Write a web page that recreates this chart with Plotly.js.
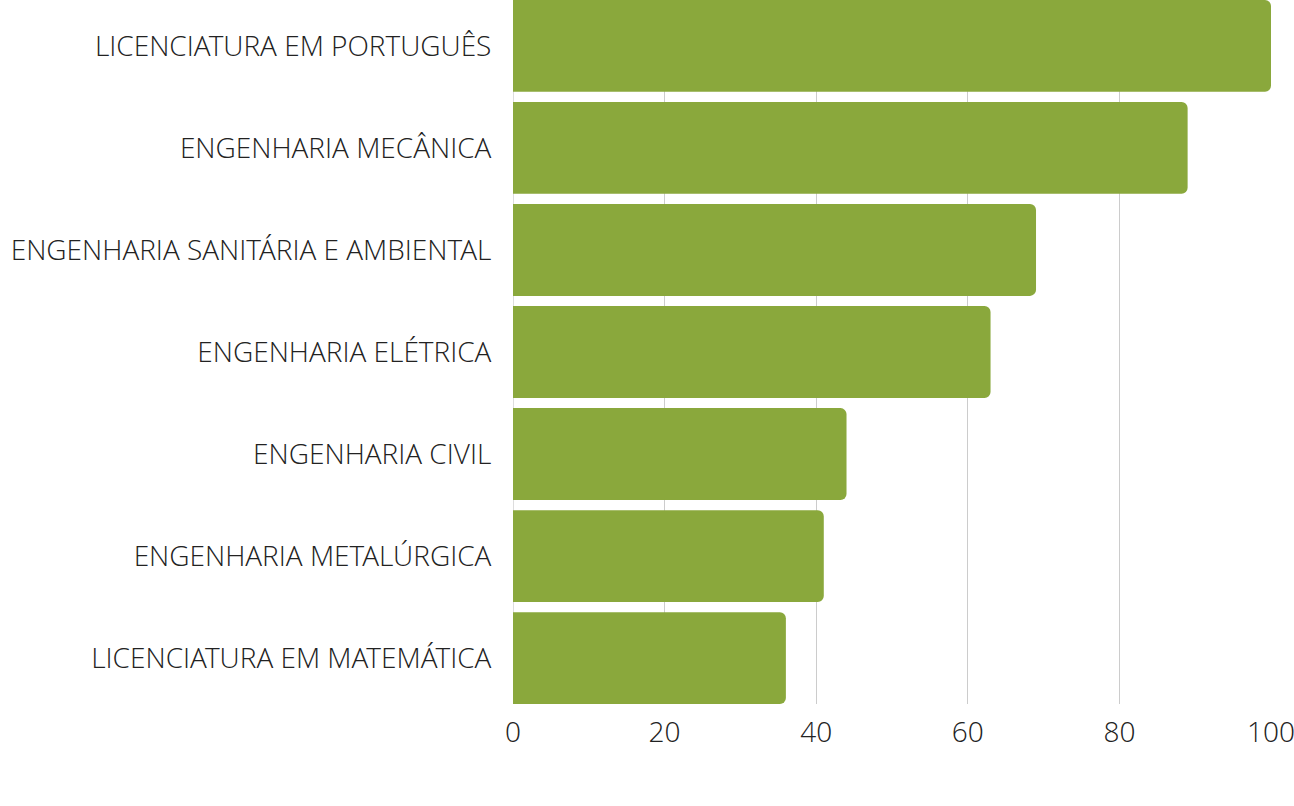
<!DOCTYPE html>
<html>
<head>
<meta charset="utf-8">
<script src="https://cdn.plot.ly/plotly-3.0.1.min.js"></script>
<style>html,body{margin:0;padding:0;background:#fff;}#chart{width:1294px;height:806px;}</style>
</head>
<body>
<div id="chart"></div>
<script>
const categories = [
  "LICENCIATURA EM PORTUGUÊS",
  "ENGENHARIA MECÂNICA",
  "ENGENHARIA SANITÁRIA E AMBIENTAL",
  "ENGENHARIA ELÉTRICA",
  "ENGENHARIA CIVIL",
  "ENGENHARIA METALÚRGICA",
  "LICENCIATURA EM MATEMÁTICA"
];
const values = [100, 89, 69, 63, 44, 41, 36];
const xTicks = [0, 20, 40, 60, 80, 100];

const FONT = '"Open Sans Light", "Open Sans", sans-serif';

const trace = {
  type: 'bar',
  orientation: 'h',
  x: values,
  y: categories,
  marker: {color: '#8aa83c', cornerradius: 6},
  hoverinfo: 'x+y'
};

const layout = {
  width: 1294,
  height: 806,
  margin: {l: 513, r: 23, t: 0, b: 102},
  paper_bgcolor: '#fff',
  plot_bgcolor: '#fff',
  bargap: 0.1,
  showlegend: false,
  font: {family: FONT, color: '#222'},
  xaxis: {
    range: [0, 100],
    tickvals: xTicks,
    showgrid: true,
    gridcolor: '#cccccc',
    gridwidth: 1,
    zeroline: false,
    showline: false,
    ticks: 'outside',
    ticklen: 3,
    tickcolor: 'rgba(0,0,0,0)',
    ticklabeloverflow: 'allow',
    tickfont: {family: FONT, size: 28, color: '#222', weight: 300}
  },
  yaxis: {
    type: 'category',
    categoryorder: 'array',
    categoryarray: categories,
    range: [6.45, -0.45],
    showgrid: false,
    zeroline: false,
    showline: false,
    ticks: 'outside',
    ticklen: 15,
    tickcolor: 'rgba(0,0,0,0)',
    tickfont: {family: FONT, size: 28, color: '#222', weight: 300}
  },
  shapes: [{
    type: 'line', xref: 'x', yref: 'paper', x0: 0, x1: 0, y0: 0, y1: 1,
    line: {color: '#bbbbbb', width: 1}, layer: 'below'
  }]
};

Plotly.newPlot('chart', [trace], layout, {displayModeBar: false, staticPlot: true});
</script>
</body>
</html>
